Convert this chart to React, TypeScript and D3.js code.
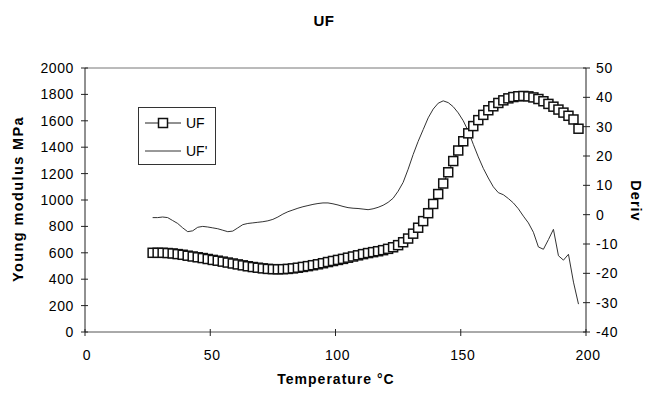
import React from "react";
import * as d3 from "d3";

// Temperature (°C) of each measurement
const temperatures: number[] = [
  27, 29, 31, 33, 35, 37, 39, 41, 43, 45, 47, 49, 51, 53, 55, 57, 59, 61, 63, 65,
  67, 69, 71, 73, 75, 77, 79, 81, 83, 85, 87, 89, 91, 93, 95, 97, 99, 101, 103, 105,
  107, 109, 111, 113, 115, 117, 119, 121, 123, 125, 127, 129, 131, 133, 135, 137, 139, 141, 143, 145,
  147, 149, 151, 153, 155, 157, 159, 161, 163, 165, 167, 169, 171, 173, 175, 177, 179, 181, 183, 185,
  187, 189, 191, 193, 195, 197,
];

// Young modulus (MPa), series "UF"
const modulus: number[] = [
  600, 600, 600, 598, 595, 590, 585, 578, 572, 566, 560, 553, 546, 540, 533, 526, 519, 512, 505, 498,
  492, 487, 482, 478, 476, 475, 476, 478, 482, 487, 493, 499, 506, 513, 521, 530, 538, 546, 554, 563,
  572, 581, 590, 598, 605, 612, 620, 630, 642, 658, 680, 708, 745, 790, 840, 900, 970, 1045, 1125, 1210,
  1295, 1375, 1445, 1505, 1560, 1605, 1645, 1680, 1710, 1735, 1755, 1770, 1780, 1786, 1788, 1785, 1777, 1765, 1748, 1728,
  1707, 1685, 1662, 1638, 1610, 1540,
];

// Derivative of the modulus, series "UF'"
const deriv: number[] = [
  -1, -1, -0.8, -1, -2, -3, -4.5, -5.8, -5.5, -4.3, -4, -4.2, -4.5, -4.8, -5.3, -5.8, -5.6, -4.5, -3.4, -3,
  -2.8, -2.6, -2.4, -2.1, -1.6, -0.8, 0.2, 1, 1.6, 2.2, 2.7, 3.1, 3.5, 3.8, 4, 4, 3.7, 3.3, 2.8, 2.4,
  2.2, 2.1, 1.9, 1.7, 2, 2.5, 3.2, 4.2, 5.6, 8, 11, 15.5, 20.5, 25, 29, 33, 36, 38, 38.8, 38.2,
  36.8, 34.7, 32, 28.5, 24, 19.7, 15.8, 12.5, 9.5, 7.5, 6.8, 5.5, 4, 2, -0.5, -2.8, -6, -11, -11.8, -8.5,
  -5, -14, -15.5, -13.5, -23, -30.5,
];

const xTicks: number[] = [0, 50, 100, 150, 200];
const yLeftTicks: number[] = [0, 200, 400, 600, 800, 1000, 1200, 1400, 1600, 1800, 2000];
const yRightTicks: number[] = [-40, -30, -20, -10, 0, 10, 20, 30, 40, 50];

const W = 647;
const H = 398;
const left = 85;
const right = 586;
const top = 68;
const bottom = 332;
const font = "'Liberation Sans', Arial, sans-serif";

export default function App() {
  const x = d3.scaleLinear().domain([0, 200]).range([left, right]);
  const yL = d3.scaleLinear().domain([0, 2000]).range([bottom, top]);
  const yR = d3.scaleLinear().domain([-40, 50]).range([bottom, top]);

  const modPts = temperatures.map((t, i) => [t, modulus[i]] as [number, number]);
  const derPts = temperatures.map((t, i) => [t, deriv[i]] as [number, number]);

  const modLine = d3
    .line<[number, number]>()
    .x((d) => x(d[0]))
    .y((d) => yL(d[1]));
  const derLine = d3
    .line<[number, number]>()
    .x((d) => x(d[0]))
    .y((d) => yR(d[1]));

  const sq = 9;
  const tickFs = 14;

  return (
    <svg
      width={W}
      height={H}
      style={{ position: "absolute", left: 0, top: 0, background: "#fff" }}
      fontFamily={font}
    >
      <rect x={0} y={0} width={W} height={H} fill="#fff" />
      {/* title */}
      <text x={324} y={26} textAnchor="middle" fontSize={15} fontWeight="bold" letterSpacing={0.5}>
        UF
      </text>

      {/* plot frame */}
      <line x1={left} x2={right} y1={top} y2={top} stroke="#777" strokeWidth={1} />
      <line x1={left} x2={right} y1={bottom} y2={bottom} stroke="#555" strokeWidth={1} />
      <line x1={left} x2={left} y1={top} y2={bottom} stroke="#222" strokeWidth={1} />
      <line x1={right} x2={right} y1={top} y2={bottom} stroke="#222" strokeWidth={1} />

      {/* left axis */}
      {yLeftTicks.map((v) => (
        <g key={"yl" + v}>
          <line x1={left - 4} x2={left + 3} y1={yL(v)} y2={yL(v)} stroke="#222" />
          <text x={74} y={yL(v) + 5} textAnchor="end" fontSize={tickFs} letterSpacing={0.6}>
            {v}
          </text>
        </g>
      ))}

      {/* right axis */}
      {yRightTicks.map((v) => (
        <g key={"yr" + v}>
          <line x1={right - 3} x2={right + 4} y1={yR(v)} y2={yR(v)} stroke="#222" />
          <text x={596} y={yR(v) + 5} textAnchor="start" fontSize={tickFs} letterSpacing={0.6}>
            {v}
          </text>
        </g>
      ))}

      {/* bottom axis */}
      {xTicks.map((v) => (
        <g key={"x" + v}>
          <line x1={x(v)} x2={x(v)} y1={bottom - 3} y2={bottom + 4} stroke="#222" />
          <text x={x(v) + 2} y={360} textAnchor="middle" fontSize={tickFs} letterSpacing={0.6}>
            {v}
          </text>
        </g>
      ))}

      {/* axis titles */}
      <text x={336} y={384} textAnchor="middle" fontSize={14} fontWeight="bold" letterSpacing={1}>
        Temperature °C
      </text>
      <text
        transform="translate(23,199) rotate(-90)"
        textAnchor="middle"
        fontSize={14.5}
        fontWeight="bold"
        letterSpacing={1.4}
      >
        Young modulus MPa
      </text>
      <text
        transform="translate(631,201) rotate(90)"
        textAnchor="middle"
        fontSize={14.5}
        fontWeight="bold"
        letterSpacing={1}
      >
        Deriv
      </text>

      {/* derivative curve */}
      <path d={derLine(derPts) ?? ""} fill="none" stroke="#333" strokeWidth={1} />

      {/* modulus series */}
      <path d={modLine(modPts) ?? ""} fill="none" stroke="#222" strokeWidth={1} />
      {modPts.map((d, i) => (
        <rect
          key={"m" + i}
          x={x(d[0]) - sq / 2}
          y={yL(d[1]) - sq / 2}
          width={sq}
          height={sq}
          fill="#fff"
          stroke="#111"
          strokeWidth={1.5}
        />
      ))}

      {/* legend */}
      <rect x={138.5} y={107.5} width={77} height={57} fill="#fff" stroke="#333" strokeWidth={1} />
      <line x1={145} x2={181} y1={123} y2={123} stroke="#222" />
      <rect x={158.5} y={118.5} width={9} height={9} fill="#fff" stroke="#111" strokeWidth={1.5} />
      <text x={186} y={128} fontSize={tickFs}>
        UF
      </text>
      <line x1={145} x2={181} y1={151} y2={151} stroke="#333" />
      <text x={186} y={156} fontSize={tickFs}>
        UF'
      </text>
    </svg>
  );
}
